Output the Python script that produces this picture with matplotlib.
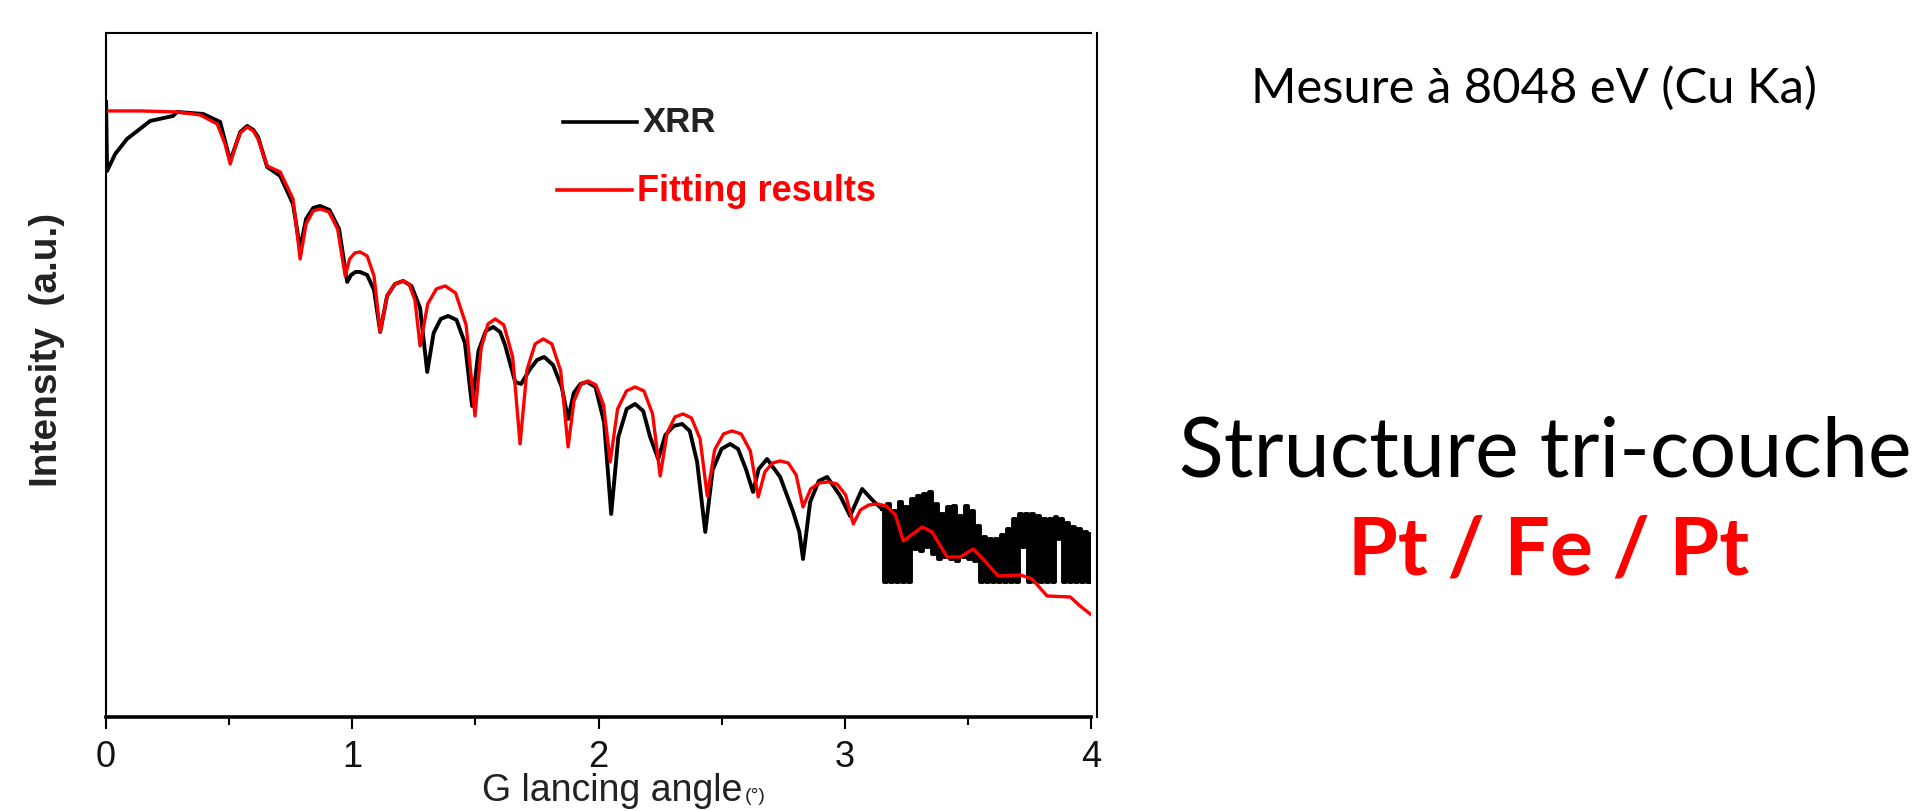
"""
XRR reflectivity curve of the Pt/Fe/Pt tri-layer, measured vs fitted.
"""

import matplotlib.pyplot as plt
from matplotlib.ticker import MultipleLocator

plt.rcParams.update({
    "font.family": ["Liberation Sans", "DejaVu Sans"],
    "savefig.dpi": 100,
})

# glancing angle (deg) / intensity (a.u., arbitrary linear scale of the log plot)
xrr_angle = [0.000, 0.004, 0.037, 0.085, 0.179, 0.272, 0.288, 0.394, 0.463,
             0.504, 0.528, 0.545, 0.573, 0.598, 0.617, 0.654, 0.707, 0.759,
             0.788, 0.812, 0.841, 0.869, 0.907, 0.946, 0.979, 0.995, 1.013,
             1.031, 1.060, 1.088, 1.113, 1.141, 1.173, 1.206, 1.240, 1.275,
             1.304, 1.330, 1.359, 1.389, 1.423, 1.457, 1.486, 1.512, 1.542,
             1.572, 1.600, 1.620, 1.661, 1.685, 1.722, 1.750, 1.779, 1.815,
             1.850, 1.876, 1.899, 1.926, 1.953, 1.987, 2.022, 2.051, 2.080,
             2.114, 2.148, 2.181, 2.209, 2.242, 2.271, 2.305, 2.339, 2.370,
             2.400, 2.433, 2.463, 2.499, 2.534, 2.566, 2.598, 2.627, 2.650,
             2.684, 2.737, 2.790, 2.815, 2.830, 2.859, 2.894, 2.928, 2.981,
             3.021, 3.070, 3.115, 3.151,
             # noisy tail near the background floor
             3.163, 3.176, 3.188, 3.200, 3.212, 3.224, 3.237, 3.249, 3.261,
             3.273, 3.286, 3.298, 3.310, 3.322, 3.334, 3.346, 3.358, 3.371,
             3.383, 3.395, 3.407, 3.419, 3.431, 3.444, 3.456, 3.468, 3.480,
             3.492, 3.505, 3.517, 3.529, 3.541, 3.553, 3.566, 3.578, 3.590,
             3.602, 3.614, 3.626, 3.639, 3.651, 3.663, 3.675, 3.687, 3.699,
             3.712, 3.724, 3.736, 3.748, 3.760, 3.773, 3.785, 3.797, 3.809,
             3.821, 3.834, 3.846, 3.858, 3.866, 3.878, 3.890, 3.903, 3.915,
             3.927, 3.939, 3.951, 3.963, 3.976, 3.988, 4.000, 4.008]
xrr_intensity = [615, 546, 563, 578, 596, 601, 605, 603, 595,
                 556, 573, 585, 591, 587, 580, 550, 541, 513,
                 468, 498, 509, 511, 507, 488, 435, 442, 445,
                 445, 442, 427, 385, 421, 433, 436, 431, 409,
                 345, 384, 398, 401, 397, 374, 311, 366, 386,
                 390, 385, 372, 335, 333, 348, 357, 360, 352,
                 330, 298, 324, 333, 335, 330, 295, 203, 280,
                 308, 313, 306, 280, 258, 282, 291, 293, 286,
                 255, 185, 247, 268, 273, 268, 248, 225, 248,
                 258, 240, 205, 185, 158, 215, 236, 240, 221,
                 201, 228, 216, 208,
                 135, 213, 135, 206, 135, 215, 135, 210, 135,
                 218, 168, 221, 166, 223, 170, 225, 163, 213,
                 158, 203, 160, 210, 158, 211, 156, 201, 160,
                 211, 158, 206, 156, 191, 135, 180, 135, 178,
                 135, 178, 135, 182, 135, 188, 135, 198, 135,
                 203, 170, 203, 135, 203, 135, 201, 135, 198,
                 135, 198, 135, 200, 178, 198, 135, 194, 135,
                 190, 135, 188, 135, 185, 135, 183, 135]

fit_angle = [0.000, 0.138, 0.288, 0.382, 0.451, 0.483, 0.504, 0.528, 0.545,
             0.573, 0.598, 0.617, 0.654, 0.707, 0.759, 0.788, 0.812, 0.841,
             0.869, 0.905, 0.940, 0.971, 0.989, 1.010, 1.031, 1.060, 1.088,
             1.113, 1.141, 1.173, 1.206, 1.230, 1.254, 1.275, 1.306, 1.341,
             1.377, 1.419, 1.462, 1.498, 1.523, 1.551, 1.580, 1.615, 1.651,
             1.681, 1.709, 1.742, 1.775, 1.810, 1.846, 1.876, 1.900, 1.929,
             1.957, 1.989, 2.020, 2.047, 2.077, 2.113, 2.148, 2.184, 2.219,
             2.250, 2.278, 2.310, 2.343, 2.377, 2.412, 2.441, 2.471, 2.507,
             2.542, 2.579, 2.616, 2.648, 2.675, 2.706, 2.737, 2.770, 2.802,
             2.830, 2.861, 2.896, 2.932, 2.968, 3.003, 3.034, 3.063, 3.097,
             3.131, 3.168, 3.205, 3.237, 3.314, 3.354, 3.415, 3.468, 3.521,
             3.561, 3.622, 3.712, 3.760, 3.821, 3.915, 3.955, 3.996]
fit_intensity = [606, 606, 605, 602, 593, 573, 553, 573, 584,
                 590, 586, 578, 551, 545, 518, 458, 493, 506,
                 508, 505, 488, 441, 458, 464, 465, 461, 441,
                 385, 421, 433, 436, 433, 417, 371, 413, 428,
                 431, 424, 392, 301, 369, 393, 398, 392, 360,
                 273, 347, 373, 378, 373, 346, 270, 316, 333,
                 336, 332, 312, 255, 308, 326, 330, 326, 303,
                 241, 284, 300, 303, 299, 278, 221, 267, 283,
                 286, 283, 266, 220, 245, 254, 256, 254, 242,
                 210, 228, 234, 235, 233, 222, 193, 207, 212,
                 213, 211, 202, 176, 190, 185, 160, 160, 168,
                 158, 141, 142, 138, 121, 120, 111, 103]

x_ticks = [0, 1, 2, 3, 4]

fig = plt.figure(figsize=(19.15, 8.12), dpi=100)
ax = fig.add_axes([0.0554, 0.1158, 0.5144, 0.8424])

# smooth part as a line, the noisy floor region as steps so it reads as a band
k = xrr_angle.index(3.151)
ax.plot(xrr_angle[:k + 1], xrr_intensity[:k + 1], color="black", lw=2.8)
ax.plot(xrr_angle[k:], xrr_intensity[k:], color="black", lw=2.8,
        drawstyle="steps-mid")
ax.plot(fit_angle, fit_intensity, color="#ff0000", lw=2.4)

ax.set_xlim(0, 4)
ax.set_ylim(0, 684)
ax.set_xticks(x_ticks)
ax.set_xticklabels([str(t) for t in x_ticks])
ax.xaxis.set_minor_locator(MultipleLocator(0.5))
ax.set_yticks([])
ax.tick_params(axis="x", which="major", direction="out", length=8.6, width=1.5,
               pad=7, labelsize=26, labelcolor="#111111")
ax.tick_params(axis="x", which="minor", direction="out", length=5.8, width=1.5)
for side in ["left", "top", "right"]:
    ax.spines[side].set_linewidth(1.5)
ax.spines["bottom"].set_linewidth(2.6)
ax.spines["right"].set_position(("outward", 4.3))

# hand-drawn legend like the original slide
ax.plot([0.464, 0.539], [0.870, 0.870], color="black", lw=2.6,
        transform=ax.transAxes)
ax.text(0.545, 0.870, "XRR", transform=ax.transAxes, fontsize=25,
        fontweight="bold", color="#222222", va="center")
ax.plot([0.458, 0.534], [0.770, 0.770], color="#ff0000", lw=2.6,
        transform=ax.transAxes)
ax.text(0.539, 0.770, "Fitting results", transform=ax.transAxes, fontsize=26,
        fontweight="bold", color="#ff0000", va="center")

# axis titles
fig.text(0.0245, 0.569, "Intensity  (a.u.)", rotation=90, fontsize=28,
         fontweight="bold", ha="center", va="center", color="#222222")
fig.text(0.3875, 0.0135, "G lancing angle", fontsize=27, ha="right",
         va="baseline", color="#222222")
fig.text(0.389, 0.0135, "(°)", fontsize=14, ha="left", va="baseline",
         color="#222222")

# slide annotations
fig.text(0.801, 0.873, "Mesure à 8048 eV (Cu Ka)", family="Lato",
         fontsize=35.3, ha="center", va="baseline")
fig.text(0.8068, 0.4126, "Structure tri-couche", family="Lato",
         fontsize=59.5, ha="center", va="baseline")
fig.text(0.8089, 0.2931, "Pt / Fe / Pt", family="Lato", fontweight="bold",
         fontsize=58, ha="center", va="baseline", color="#ff0000")

fig.savefig("out.png", dpi=100)
plt.close(fig)
